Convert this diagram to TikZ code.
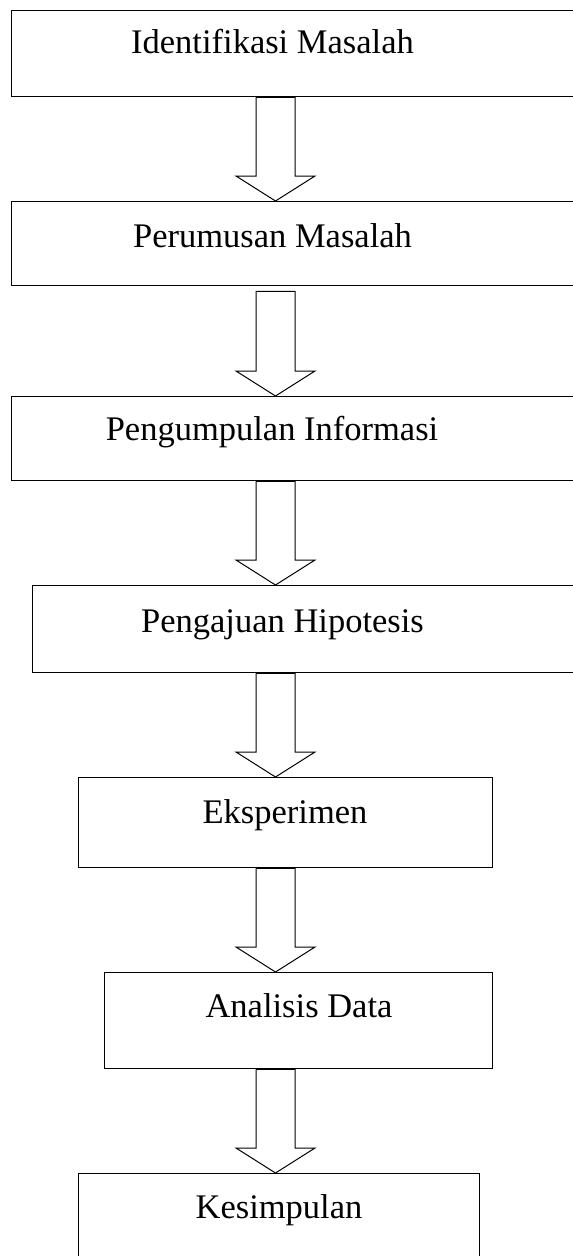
\documentclass[tikz,border=0pt]{standalone}
\usepackage{fontspec}
\setmainfont{Liberation Serif}
\usetikzlibrary{calc}
\tikzset{
	stepframe/.style={draw, line width=1.3pt, inner sep=0pt, anchor=north west},
	steptext/.style={anchor=base, inner sep=0pt, font=\fontsize{34.5}{41}\selectfont},
	arrowline/.style={draw, line width=1pt, line join=miter}
}
\begin{document}
\begin{tikzpicture}[x=1pt, y=-1pt]
		\useasboundingbox (0,0) rectangle (573,1256);
		\clip (0,0) rectangle (573,1256);
		\fill[white] (0,0) rectangle (573,1256);
		%Boxes
		\node[stepframe, minimum width=620, minimum height=86] (b1) at (11,10) {};
		\node[stepframe, minimum width=620, minimum height=84] (b2) at (11,201) {};
		\node[stepframe, minimum width=620, minimum height=84] (b3) at (11,396) {};
		\node[stepframe, minimum width=600, minimum height=87] (b4) at (32,585) {};
		\node[stepframe, minimum width=414, minimum height=90] (b5) at (78,777) {};
		\node[stepframe, minimum width=388, minimum height=96] (b6) at (104,972) {};
		\node[stepframe, minimum width=401, minimum height=90] (b7) at (78,1173) {};
		%Texts
		\node[steptext] (t1) at (272.5,53) {Identifikasi Masalah};
		\node[steptext] (t2) at (272.5,247) {Perumusan Masalah};
		\node[steptext] (t3) at (272,440) {Pengumpulan Informasi};
		\node[steptext] (t4) at (282.5,632) {Pengajuan Hipotesis};
		\node[steptext] (t5) at (285,823) {Eksperimen};
		\node[steptext] (t6) at (299,1017) {Analisis Data};
		\node[steptext] (t7) at (279,1218) {Kesimpulan};
		%Block arrows
		\coordinate (ax) at (275.5,0);
		\foreach \boxa/\boxb/\g in {b1/b2/0, b2/b3/5, b3/b4/0, b4/b5/0, b5/b6/0, b6/b7/0}
		\draw[arrowline] ($(\boxa.south -| ax)+(-19.5,\g)$) -- ($(\boxb.north -| ax)+(-19.5,-25)$) -- ++(-20,0) -- (\boxb.north -| ax) -- ++(39.5,-25) -- ++(-20,0) -- ($(\boxa.south -| ax)+(19.5,\g)$) -- cycle;
\end{tikzpicture}
\end{document}
